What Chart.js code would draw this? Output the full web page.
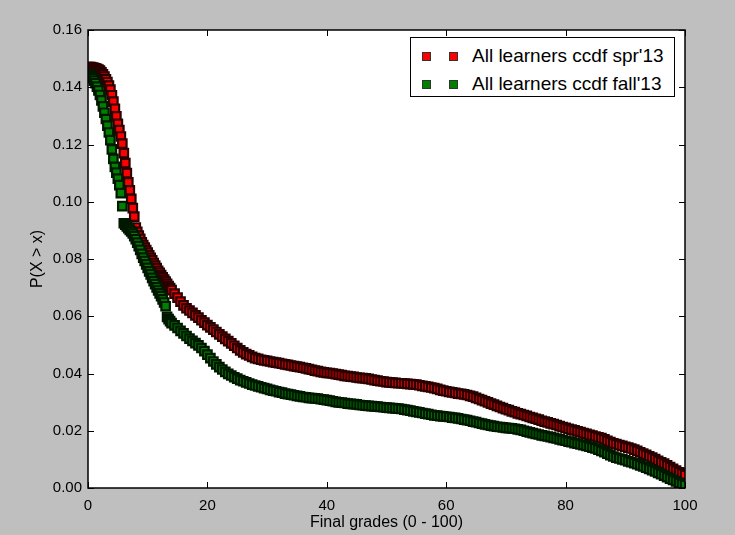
<!DOCTYPE html>
<html>
<head>
<meta charset="utf-8">
<title>ccdf of final grades</title>
<script src="https://cdn.jsdelivr.net/npm/chart.js@4.4.1/dist/chart.umd.min.js"></script>
<style>
  html, body { margin: 0; padding: 0; background: #bfbfbf; }
  #wrap { position: relative; width: 735px; height: 535px; }
  #legend {
    position: absolute; left: 410px; top: 37px; width: 263px; height: 58px;
    background: #fff; border: 1px solid #000;
    font-family: "Liberation Sans", Arial, sans-serif; font-size: 19px; color: #000;
  }
  .row { position: absolute; left: 0; height: 22px; line-height: 22px; white-space: nowrap; }
  .mk { position: absolute; top: 7px; width: 7px; height: 7px; border: 1px solid #333; }
  .txt { position: absolute; left: 61px; top: 0; }
</style>
</head>
<body>
<div id="wrap">
  <canvas id="ccdfChart" width="735" height="535"></canvas>
  <div id="legend"></div>
</div>
<script>
// grades on the x axis (finer steps where the curves fall fast)
var grades = [
  0, 0.25, 0.5, 0.75, 1, 1.25, 1.5, 1.75, 2, 2.25, 2.5, 2.75, 3, 3.25, 3.5, 3.75,
  4, 4.25, 4.5, 4.75, 5, 5.25, 5.5, 5.75, 6, 6.25, 6.5, 6.75, 7, 7.25, 7.5, 7.75,
  8, 8.25, 8.5, 8.75, 9, 9.25, 9.5, 9.75, 10, 10.25, 10.5, 10.75, 11, 11.25, 11.5, 11.75,
  12, 12.25, 12.5, 12.75, 13, 13.25, 13.5, 13.75, 14,
  14.5, 15, 15.5, 16, 16.5, 17, 17.5, 18, 18.5, 19, 19.5, 20,
  20.5, 21, 21.5, 22, 22.5, 23, 23.5, 24, 24.5, 25, 25.5, 26, 26.5, 27, 27.5, 28, 28.5, 29, 29.5, 30,
  30.5, 31, 31.5, 32, 32.5, 33, 33.5, 34, 34.5, 35, 35.5, 36, 36.5, 37, 37.5, 38, 38.5, 39, 39.5, 40,
  40.5, 41, 41.5, 42, 42.5, 43, 43.5, 44, 44.5, 45, 45.5, 46, 46.5, 47, 47.5, 48, 48.5, 49, 49.5, 50,
  50.5, 51, 51.5, 52, 52.5, 53, 53.5, 54, 54.5, 55, 55.5, 56, 56.5, 57, 57.5, 58, 58.5, 59, 59.5, 60,
  60.5, 61, 61.5, 62, 62.5, 63, 63.5, 64, 64.5, 65, 65.5, 66, 66.5, 67, 67.5, 68, 68.5, 69, 69.5, 70,
  70.5, 71, 71.5, 72, 72.5, 73, 73.5, 74, 74.5, 75, 75.5, 76, 76.5, 77, 77.5, 78, 78.5, 79, 79.5, 80,
  80.5, 81, 81.5, 82, 82.5, 83, 83.5, 84, 84.5, 85, 85.5, 86, 86.5, 87, 87.5, 88, 88.5, 89, 89.5, 90,
  90.5, 91, 91.5, 92, 92.5, 93, 93.5, 94, 94.5, 95, 95.5, 96, 96.5, 97, 97.5, 98, 98.5, 99, 99.5, 100
];

// P(X > x), spring 2013
var sprCcdf = [
  0.1470, 0.1470, 0.1470, 0.1469, 0.1468, 0.1466, 0.1464, 0.1462, 0.1458, 0.1452, 0.1445, 0.1437, 0.1428, 0.1418, 0.1406, 0.1392,
  0.1372, 0.1350, 0.1325, 0.1298, 0.1272, 0.1250, 0.1228, 0.1203, 0.1170, 0.1135, 0.1100, 0.1068, 0.1040, 0.1010, 0.0978, 0.0948,
  0.0910, 0.0895, 0.0882, 0.0870, 0.0858, 0.0849, 0.0840, 0.0831, 0.0822, 0.0813, 0.0804, 0.0795, 0.0786, 0.0777, 0.0768, 0.0759,
  0.0752, 0.0744, 0.0736, 0.0728, 0.0721, 0.0713, 0.0705, 0.0698, 0.0691,
  0.0679, 0.0665, 0.0651, 0.0638, 0.0628, 0.0620, 0.0612, 0.0603, 0.0595, 0.0586, 0.0578, 0.0569,
  0.0561, 0.0553, 0.0545, 0.0537, 0.0529, 0.0521, 0.0513, 0.0505, 0.0497, 0.0489, 0.0481, 0.0474, 0.0468, 0.0463, 0.0458, 0.0454, 0.0451, 0.0448, 0.0446, 0.0444,
  0.0442, 0.0440, 0.0438, 0.0436, 0.0434, 0.0432, 0.0430, 0.0428, 0.0426, 0.0424, 0.0422, 0.0420, 0.0418, 0.0415, 0.0413, 0.0410, 0.0408, 0.0406, 0.0404, 0.0402,
  0.0401, 0.0400, 0.0398, 0.0396, 0.0394, 0.0392, 0.0391, 0.0389, 0.0388, 0.0386, 0.0385, 0.0384, 0.0383, 0.0381, 0.0379, 0.0377, 0.0375, 0.0373, 0.0372, 0.0370,
  0.0369, 0.0368, 0.0367, 0.0366, 0.0366, 0.0365, 0.0364, 0.0363, 0.0362, 0.0361, 0.0359, 0.0357, 0.0355, 0.0353, 0.0351, 0.0349, 0.0346, 0.0343, 0.0340, 0.0338,
  0.0336, 0.0334, 0.0332, 0.0330, 0.0329, 0.0327, 0.0325, 0.0322, 0.0319, 0.0315, 0.0311, 0.0307, 0.0303, 0.0299, 0.0295, 0.0291, 0.0287, 0.0283, 0.0279, 0.0275,
  0.0272, 0.0268, 0.0265, 0.0261, 0.0258, 0.0255, 0.0252, 0.0248, 0.0245, 0.0242, 0.0239, 0.0235, 0.0232, 0.0229, 0.0226, 0.0223, 0.0220, 0.0216, 0.0213, 0.0210,
  0.0207, 0.0204, 0.0201, 0.0198, 0.0195, 0.0192, 0.0189, 0.0186, 0.0183, 0.0180, 0.0177, 0.0174, 0.0170, 0.0165, 0.0160, 0.0156, 0.0153, 0.0150, 0.0147, 0.0144,
  0.0141, 0.0138, 0.0134, 0.0130, 0.0125, 0.0120, 0.0116, 0.0111, 0.0106, 0.0101, 0.0095, 0.0090, 0.0085, 0.0079, 0.0073, 0.0067, 0.0061, 0.0055, 0.0050, 0.0045
];

// P(X > x), fall 2013
var fallCcdf = [
  0.1445, 0.1443, 0.1439, 0.1432, 0.1423, 0.1414, 0.1402, 0.1389, 0.1373, 0.1354, 0.1333, 0.1311, 0.1289, 0.1266, 0.1242, 0.1215,
  0.1183, 0.1150, 0.1122, 0.1102, 0.1081, 0.1058, 0.1030, 0.0985, 0.0925, 0.0920, 0.0914, 0.0908, 0.0902, 0.0896, 0.0889, 0.0880,
  0.0869, 0.0857, 0.0845, 0.0832, 0.0818, 0.0805, 0.0793, 0.0781, 0.0769, 0.0757, 0.0746, 0.0734, 0.0723, 0.0712, 0.0701, 0.0690,
  0.0680, 0.0670, 0.0659, 0.0648, 0.0635, 0.0598, 0.0590, 0.0583, 0.0576,
  0.0568, 0.0559, 0.0549, 0.0540, 0.0531, 0.0522, 0.0514, 0.0506, 0.0498, 0.0489, 0.0478, 0.0466,
  0.0454, 0.0442, 0.0432, 0.0422, 0.0414, 0.0406, 0.0399, 0.0393, 0.0387, 0.0382, 0.0377, 0.0373, 0.0369, 0.0365, 0.0361, 0.0358, 0.0355, 0.0352, 0.0349, 0.0346,
  0.0343, 0.0340, 0.0338, 0.0335, 0.0333, 0.0330, 0.0328, 0.0326, 0.0324, 0.0322, 0.0320, 0.0318, 0.0317, 0.0315, 0.0314, 0.0313, 0.0312, 0.0310, 0.0309, 0.0307,
  0.0305, 0.0303, 0.0301, 0.0299, 0.0298, 0.0297, 0.0295, 0.0294, 0.0293, 0.0292, 0.0290, 0.0289, 0.0288, 0.0287, 0.0286, 0.0285, 0.0284, 0.0283, 0.0282, 0.0281,
  0.0280, 0.0279, 0.0278, 0.0277, 0.0276, 0.0274, 0.0272, 0.0270, 0.0268, 0.0266, 0.0264, 0.0262, 0.0260, 0.0258, 0.0256, 0.0254, 0.0253, 0.0251, 0.0250, 0.0249,
  0.0248, 0.0246, 0.0245, 0.0243, 0.0241, 0.0239, 0.0237, 0.0235, 0.0232, 0.0230, 0.0227, 0.0225, 0.0222, 0.0220, 0.0218, 0.0216, 0.0214, 0.0213, 0.0212, 0.0210,
  0.0209, 0.0208, 0.0207, 0.0205, 0.0203, 0.0200, 0.0197, 0.0194, 0.0192, 0.0189, 0.0187, 0.0184, 0.0182, 0.0180, 0.0178, 0.0175, 0.0173, 0.0170, 0.0167, 0.0165,
  0.0162, 0.0160, 0.0157, 0.0155, 0.0152, 0.0150, 0.0147, 0.0144, 0.0141, 0.0138, 0.0134, 0.0130, 0.0125, 0.0120, 0.0115, 0.0110, 0.0106, 0.0103, 0.0100, 0.0097,
  0.0093, 0.0090, 0.0087, 0.0083, 0.0079, 0.0075, 0.0071, 0.0067, 0.0062, 0.0058, 0.0053, 0.0048, 0.0043, 0.0038, 0.0033, 0.0028, 0.0023, 0.0018, 0.0014, 0.0010
];

var xTicks = [0, 20, 40, 60, 80, 100];
var yTicks = [0, 0.02, 0.04, 0.06, 0.08, 0.10, 0.12, 0.14, 0.16];

function toPoints(ys) {
  return grades.map(function (g, i) { return { x: g, y: ys[i] }; });
}

var fontFam = '"Liberation Sans", Arial, Helvetica, sans-serif';

// gray figure, white axes box, black frame and inward ticks like matplotlib
var frame = {
  id: 'frame',
  beforeDraw: function (chart) {
    var c = chart.ctx, a = chart.chartArea;
    c.save();
    c.fillStyle = '#bfbfbf';
    c.fillRect(0, 0, chart.width, chart.height);
    c.fillStyle = '#ffffff';
    c.fillRect(a.left, a.top, a.right - a.left, a.bottom - a.top);
    c.restore();
  },
  afterDraw: function (chart) {
    var c = chart.ctx, a = chart.chartArea;
    var xs = chart.scales.x, ys = chart.scales.y;
    c.save();
    c.strokeStyle = '#000';
    c.lineWidth = 1;
    c.beginPath();
    xTicks.forEach(function (t) {
      var px = Math.round(xs.getPixelForValue(t)) + 0.5;
      c.moveTo(px, a.bottom); c.lineTo(px, a.bottom - 6);
      c.moveTo(px, a.top); c.lineTo(px, a.top + 6);
    });
    yTicks.forEach(function (t) {
      var py = Math.round(ys.getPixelForValue(t)) + 0.5;
      c.moveTo(a.left, py); c.lineTo(a.left + 6, py);
      c.moveTo(a.right, py); c.lineTo(a.right - 6, py);
    });
    c.stroke();
    c.lineWidth = 1.5;
    c.strokeRect(a.left, a.top, a.right - a.left, a.bottom - a.top);
    c.restore();
  }
};

var ctx = document.getElementById('ccdfChart').getContext('2d');
var chart = new Chart(ctx, {
  type: 'scatter',
  data: {
    datasets: [
      {
        label: "All learners ccdf spr'13",
        data: toPoints(sprCcdf),
        backgroundColor: '#ff0000',
        borderColor: '#2a0000',
        borderWidth: 2.2,
        pointStyle: 'rect',
        pointRadius: 6,
        order: 2
      },
      {
        label: "All learners ccdf fall'13",
        data: toPoints(fallCcdf),
        backgroundColor: '#008000',
        borderColor: '#001800',
        borderWidth: 2.2,
        pointStyle: 'rect',
        pointRadius: 6,
        order: 1
      }
    ]
  },
  options: {
    responsive: false,
    animation: false,
    layout: { padding: { left: 0, top: 30, right: 50, bottom: 0 } },
    plugins: { legend: { display: false }, tooltip: { enabled: false } },
    scales: {
      x: {
        type: 'linear', min: 0, max: 100,
        afterFit: function (s) { s.height = 47; },
        afterBuildTicks: function (s) { s.ticks = xTicks.map(function (v) { return { value: v }; }); },
        grid: { display: false, drawTicks: false },
        border: { display: false },
        ticks: { color: '#000', padding: 9, font: { family: fontFam, size: 15 } },
        title: { display: true, text: 'Final grades (0 - 100)', color: '#000', padding: { top: 0, bottom: 3 }, font: { family: fontFam, size: 16 } }
      },
      y: {
        type: 'linear', min: 0, max: 0.16,
        afterFit: function (s) { s.width = 88; },
        afterBuildTicks: function (s) { s.ticks = yTicks.map(function (v) { return { value: v }; }); },
        grid: { display: false, drawTicks: false },
        border: { display: false },
        ticks: {
          color: '#000', padding: 6, font: { family: fontFam, size: 15 },
          callback: function (v) { return Number(v).toFixed(2); }
        },
        title: { display: true, text: 'P(X > x)', color: '#000', padding: { top: 28, bottom: 0 }, font: { family: fontFam, size: 16 } }
      }
    }
  },
  plugins: [frame]
});

// legend box (two markers per entry, as matplotlib draws it)
var legend = document.getElementById('legend');
chart.data.datasets.forEach(function (ds, i) {
  var row = document.createElement('div');
  row.className = 'row';
  row.style.top = (7 + i * 28) + 'px';
  [11, 38].forEach(function (left) {
    var m = document.createElement('span');
    m.className = 'mk';
    m.style.left = left + 'px';
    m.style.background = ds.backgroundColor;
    row.appendChild(m);
  });
  var t = document.createElement('span');
  t.className = 'txt';
  t.textContent = ds.label;
  row.appendChild(t);
  legend.appendChild(row);
});
</script>
</body>
</html>
